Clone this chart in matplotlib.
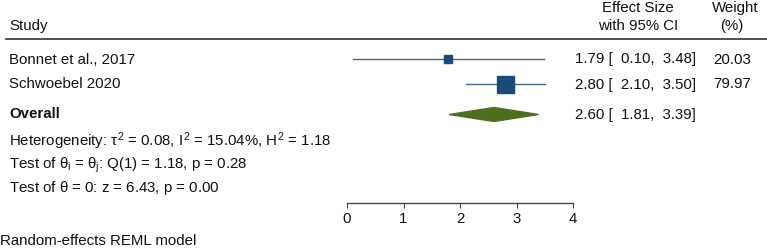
import numpy as np
import matplotlib.pyplot as plt

plt.rcParams['font.family'] = ['Liberation Sans', 'DejaVu Sans']
plt.rcParams['mathtext.fontset'] = 'custom'
plt.rcParams['mathtext.rm'] = 'Liberation Sans'
plt.rcParams['mathtext.it'] = 'Liberation Sans'

studies = ["Bonnet et al., 2017", "Schwoebel 2020"]
es = [1.79, 2.80]
lo = [0.10, 2.10]
hi = [3.48, 3.50]
weight = [20.03, 79.97]
overall = [2.60, 1.81, 3.39]
xticks = [0, 1, 2, 3, 4]

W, H = 767, 250
fig = plt.figure(figsize=(W / 100, H / 100), dpi=100)

# layout axes in pixel units (y down)
ax = fig.add_axes([0, 0, 1, 1])
ax.set_xlim(0, W)
ax.set_ylim(H, 0)
ax.axis('off')

# forest panel: x in effect units, y in pixels
x0, x1, ytop, ybot = 347, 573, 38, 203
fa = fig.add_axes([x0 / W, (H - ybot) / H, (x1 - x0) / W, (ybot - ytop) / H])
fa.set_xlim(0, 4)
fa.set_ylim(ybot, ytop)
fa.patch.set_alpha(0)
for s in ['top', 'right', 'left']:
    fa.spines[s].set_visible(False)
fa.spines['bottom'].set_color('#444444')
fa.spines['bottom'].set_linewidth(1.0)
fa.set_yticks([])
fa.set_xticks(xticks)
fa.tick_params(axis='x', length=3.5, color='#444444', labelsize=10.8, pad=3, labelcolor='#111111')

fs = 10.8
tc = '#111111'
rows = [59.5, 84.5]
wmax = max(weight)
for i in range(len(studies)):
    fa.plot([lo[i], hi[i]], [rows[i], rows[i]], color='#4a6a88', lw=1.0, clip_on=False)
    side = 17 * np.sqrt(weight[i] / wmax) * 0.72
    fa.plot(es[i], rows[i], marker='s', ms=side, color='#1a4a7a', mec='#1a4a7a', clip_on=False)
    ax.text(9, rows[i], studies[i], fontsize=fs, color=tc, va='center')
    ax.text(575, rows[i], "%.2f [ %5.2f,  %.2f]" % (es[i], lo[i], hi[i]), fontsize=fs, color=tc, va='center')
    ax.text(751, rows[i], "%.2f" % weight[i], fontsize=fs, color=tc, va='center', ha='right')

yo = 114.5
fa.fill([overall[1], overall[0], overall[2], overall[0]], [yo, yo - 7, yo, yo + 7],
        color='#4d6e1f', clip_on=False)
ax.text(9, yo, "Overall", fontsize=fs, color=tc, va='center', fontweight='bold')
ax.text(575, yo, "%.2f [  %.2f,  %.2f]" % tuple(overall), fontsize=fs, color=tc, va='center')

# header
ax.text(9, 26, "Study", fontsize=fs, color=tc, va='center')
ax.text(638, 8, "Effect Size", fontsize=fs, color=tc, va='center', ha='center')
ax.text(638, 26, "with 95% CI", fontsize=fs, color=tc, va='center', ha='center')
ax.text(735, 8, "Weight", fontsize=fs, color=tc, va='center', ha='center')
ax.text(732, 26, "(%)", fontsize=fs, color=tc, va='center', ha='center')
ax.plot([6, W], [38.5, 38.5], color='#333333', lw=1.2)

ax.text(9, 141, r"Heterogeneity: $\tau^{2}$ = 0.08, $I^{2}$ = 15.04%, $H^{2}$ = 1.18", fontsize=fs, color=tc, va='center')
ax.text(9, 165, r"Test of $\theta_{i}$ = $\theta_{j}$: Q(1) = 1.18, p = 0.28", fontsize=fs, color=tc, va='center')
ax.text(9, 188, r"Test of $\theta$ = 0: z = 6.43, p = 0.00", fontsize=fs, color=tc, va='center')
ax.text(0, 241, "Random-effects REML model", fontsize=fs, color=tc, va='center')

fig.savefig("out.png", dpi=100)
